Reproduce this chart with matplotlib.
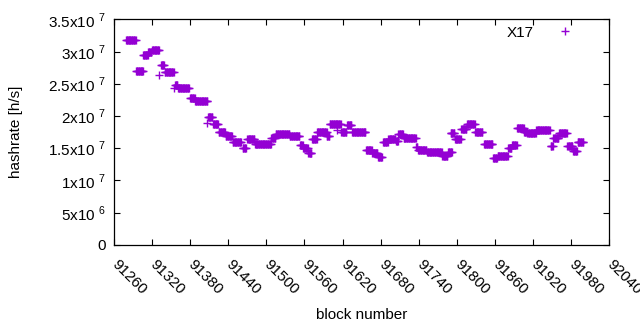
import numpy as np
import matplotlib
matplotlib.use("Agg")
from matplotlib import pyplot as plt
from matplotlib import transforms
from matplotlib.ticker import FixedLocator

plt.rcParams['font.family'] = ['Liberation Sans', 'DejaVu Sans']
plt.rcParams['mathtext.fontset'] = 'custom'
plt.rcParams['mathtext.rm'] = 'Liberation Sans'

# runs of blocks with the same hashrate estimate (first block, last block, value in 1e7 h/s)
first_block = [91279, 91295, 91306, 91314, 91320, 91331, 91334, 91340, 91354, 91356,
               91361, 91380, 91388, 91406, 91408, 91416, 91425, 91436, 91447, 91463,
               91470, 91482, 91508, 91515, 91537, 91553, 91558, 91566, 91572, 91580,
               91595, 91600, 91611, 91618, 91627, 91635, 91657, 91667, 91676, 91684,
               91692, 91704, 91708, 91716, 91736, 91739, 91753, 91777, 91786, 91790,
               91797, 91807, 91816, 91829, 91843, 91857, 91864, 91881, 91887, 91895,
               91906, 91911, 91925, 91948, 91952, 91961, 91974, 91983, 91990]
last_block = [91294, 91306, 91313, 91319, 91331, 91331, 91339, 91354, 91354, 91360,
              91378, 91387, 91407, 91406, 91415, 91424, 91435, 91446, 91460, 91468,
              91481, 91507, 91514, 91536, 91552, 91557, 91565, 91571, 91579, 91595,
              91599, 91617, 91611, 91626, 91634, 91656, 91666, 91675, 91682, 91691,
              91703, 91707, 91715, 91735, 91738, 91752, 91776, 91785, 91792, 91796,
              91806, 91815, 91828, 91840, 91856, 91863, 91880, 91886, 91894, 91905,
              91910, 91924, 91946, 91951, 91960, 91973, 91982, 91989, 91999]
hashrate_e7 = [3.18, 2.70, 2.95, 3.00, 3.02, 2.63, 2.79, 2.69, 2.43, 2.49,
               2.44, 2.28, 2.23, 1.89, 1.98, 1.87, 1.76, 1.69, 1.59, 1.51,
               1.64, 1.57, 1.66, 1.72, 1.69, 1.55, 1.50, 1.42, 1.64, 1.76,
               1.69, 1.87, 1.78, 1.75, 1.86, 1.76, 1.47, 1.42, 1.36, 1.59,
               1.64, 1.61, 1.72, 1.66, 1.52, 1.47, 1.44, 1.38, 1.44, 1.73,
               1.64, 1.80, 1.87, 1.75, 1.56, 1.35, 1.38, 1.50, 1.55, 1.81,
               1.76, 1.73, 1.78, 1.53, 1.66, 1.73, 1.53, 1.45, 1.59]

xticks = [91260, 91320, 91380, 91440, 91500, 91560, 91620, 91680, 91740,
          91800, 91860, 91920, 91980, 92040]
yticks = [0, 5e6, 1e7, 1.5e7, 2e7, 2.5e7, 3e7, 3.5e7]
ytick_labels = ['0', '5x10 $^{6}$', '1x10 $^{7}$', '1.5x10 $^{7}$', '2x10 $^{7}$',
                '2.5x10 $^{7}$', '3x10 $^{7}$', '3.5x10 $^{7}$']

# one point per block
xs, ys = [], []
for a, b, v in zip(first_block, last_block, hashrate_e7):
    blk = np.arange(a, b + 1)
    xs.append(blk)
    ys.append(np.full(len(blk), v * 1e7))
x = np.concatenate(xs)
y = np.concatenate(ys)

fs = 11
fig = plt.figure(figsize=(6.4, 3.3), dpi=100)
ax = fig.add_axes([0.178, 0.258, 0.774, 0.683])
ax.plot(x, y, linestyle='none', marker='+', markersize=5.8, markeredgewidth=1.0,
        color='#9400d3', label='X17')

ax.set_xlim(91260, 92040)
ax.set_ylim(0, 3.5e7)
ax.xaxis.set_major_locator(FixedLocator(xticks))
ax.yaxis.set_major_locator(FixedLocator(yticks))
ax.set_yticklabels(ytick_labels)
ax.tick_params(direction='in', length=4, width=0.8, top=True, right=True,
               labelsize=fs, colors='black')
ax.tick_params(axis='y', pad=6)
ax.tick_params(axis='x', pad=9)
shift = transforms.ScaledTranslation(5 / 100, 0, fig.dpi_scale_trans)
for lbl in ax.get_xticklabels():
    lbl.set_rotation(-45)
    lbl.set_ha('left')
    lbl.set_va('top')
    lbl.set_rotation_mode('anchor')
    lbl.set_transform(lbl.get_transform() + shift)
for sp in ax.spines.values():
    sp.set_linewidth(0.9)

ax.set_xlabel('block number', fontsize=fs, labelpad=8)
ax.set_ylabel('hashrate [h/s]', fontsize=fs)
ax.yaxis.set_label_coords(-0.184, 0.5)
ax.legend(loc='upper right', frameon=False, markerfirst=False, fontsize=fs,
          handlelength=2.5, borderaxespad=0.3, bbox_to_anchor=(0.97, 1.02))

fig.savefig('out.png', dpi=100)
